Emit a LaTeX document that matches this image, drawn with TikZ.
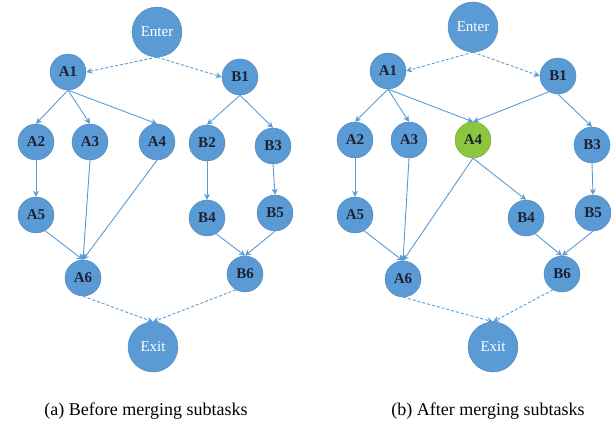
\documentclass[tikz,border=0pt]{standalone}
\usepackage{fontspec}
\setmainfont{Liberation Serif}
\usetikzlibrary{arrows.meta}
\definecolor{nodeblue}{HTML}{5B9BD5}
\definecolor{edgeblue}{HTML}{5B9BD5}
\definecolor{mergegreen}{HTML}{8CC63F}
\definecolor{labelink}{HTML}{1C2233}
\tikzset{
  task/.style={circle, fill=nodeblue, draw=nodeblue!85!black, line width=0.4pt,
    minimum size=36pt, inner sep=0pt, text=labelink, font=\fontsize{15}{15}\selectfont\bfseries},
  merged/.style={task, fill=mergegreen, draw=mergegreen!85!black},
  terminal/.style={circle, fill=nodeblue, draw=nodeblue!85!black, line width=0.4pt,
    minimum size=50pt, inner sep=0pt, text=white, font=\fontsize{15}{15}\selectfont},
  flow/.style={draw=edgeblue, line width=0.9pt, -{Stealth[length=6pt,width=6pt]}},
  ctrl/.style={flow, dashed, dash pattern=on 3pt off 2pt},
  caption/.style={font=\fontsize{18}{18}\selectfont, text=black}
}
\begin{document}
\begin{tikzpicture}[x=1pt,y=-1pt]
\useasboundingbox (0,0) rectangle (616,426);

% ---- (a) before merging ----
\node[terminal] (aEnter) at (157,32) {Enter};
\node[task] (aA1) at (68,72) {A1};
\node[task] (aB1) at (240,77) {B1};
\node[task] (aA2) at (36,142) {A2};
\node[task] (aA3) at (90,142) {A3};
\node[task] (aA4) at (157,142) {A4};
\node[task] (aB2) at (207,143) {B2};
\node[task] (aB3) at (273,146) {B3};
\node[task] (aA5) at (36,215) {A5};
\node[task] (aB4) at (207,218) {B4};
\node[task] (aB5) at (275,213) {B5};
\node[task] (aA6) at (83,278) {A6};
\node[task] (aB6) at (245,274) {B6};
\node[terminal] (aExit) at (153,347) {Exit};

\draw[ctrl] (aEnter.south) -- (aA1.east);
\draw[ctrl] (aEnter.south) -- (aB1.west);
\draw[flow] (aA1.south) -- (aA2.north);
\draw[flow] (aA1.south) -- (aA3.north);
\draw[flow] (aA1.south) -- (aA4.north);
\draw[flow] (aB1.south) -- (aB2.north);
\draw[flow] (aB1.south) -- (aB3.north);
\draw[flow] (aA2.south) -- (aA5.north);
\draw[flow] (aB2.south) -- (aB4.north);
\draw[flow] (aB3.south) -- (aB5.north);
\draw[flow] (aA5.-60) -- (aA6.north);
\draw[flow] (aA3.south) -- (aA6.north);
\draw[flow] (aA4.south) -- (aA6.north);
\draw[flow] (aB4.-60) -- (aB6.north);
\draw[flow] (aB5.south) -- (aB6.north);
\draw[ctrl] (aA6.south) -- (aExit.north);
\draw[ctrl] (aB6.-120) -- (aExit.north);

\node[caption] (capa) at (146,411) {(a) Before merging subtasks};

% ---- (b) after merging ----
\node[terminal] (bEnter) at (473,27) {Enter};
\node[task] (bA1) at (388,71) {A1};
\node[task] (bB1) at (558,76) {B1};
\node[task] (bA2) at (355,140) {A2};
\node[task] (bA3) at (409,140) {A3};
\node[merged] (bA4) at (473,140) {A4};
\node[task] (bB3) at (592,145) {B3};
\node[task] (bA5) at (355,215) {A5};
\node[task] (bB4) at (526,218) {B4};
\node[task] (bB5) at (593,213) {B5};
\node[task] (bA6) at (403,279) {A6};
\node[task] (bB6) at (562,274) {B6};
\node[terminal] (bExit) at (493,347) {Exit};

\draw[ctrl] (bEnter.south) -- (bA1.east);
\draw[ctrl] (bEnter.south) -- (bB1.west);
\draw[flow] (bA1.south) -- (bA2.north);
\draw[flow] (bA1.south) -- (bA3.north);
\draw[flow] (bA1.south) -- (bA4.north);
\draw[flow] (bB1.-120) -- (bA4.north);
\draw[flow] (bB1.south) -- (bB3.north);
\draw[flow] (bA2.south) -- (bA5.north);
\draw[flow] (bA4.south) -- (bB4.north);
\draw[flow] (bB3.south) -- (bB5.north);
\draw[flow] (bA5.-60) -- (bA6.north);
\draw[flow] (bA3.south) -- (bA6.north);
\draw[flow] (bA4.south) -- (bA6.north);
\draw[flow] (bB4.-60) -- (bB6.north);
\draw[flow] (bB5.south) -- (bB6.north);
\draw[ctrl] (bA6.south) -- (bExit.north);
\draw[ctrl] (bB6.-120) -- (bExit.north);

\node[caption] (capb) at (488,411) {(b) After merging subtasks};
\end{tikzpicture}
\end{document}
